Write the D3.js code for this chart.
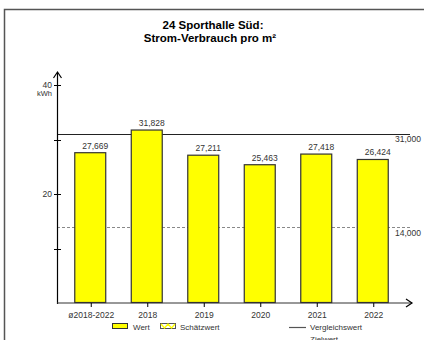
<!DOCTYPE html>
<html><head><meta charset="utf-8">
<script src="https://cdn.jsdelivr.net/npm/d3@7"></script>
<style>body{margin:0;background:#fff}svg{display:block;font-family:"Liberation Sans",Arial,sans-serif}</style>
</head><body>
<script>
const categories = ["ø2018-2022","2018","2019","2020","2021","2022"];
const values = [27.669,31.828,27.211,25.463,27.418,26.424];
const valueLabels = ["27,669","31,828","27,211","25,463","27,418","26,424"];
const refValues = [31.0, 14.0];
const refLabels = ["31,000","14,000"];
const yTicks = [10,20,30,40];
const yTickLabels = {20:"20",40:"40"};
const titleLines = ["24 Sporthalle Süd:","Strom-Verbrauch pro m²"];

const W=425,H=340;
const svg=d3.select("body").append("svg").attr("width",W).attr("height",H);
// frame
svg.append("path").attr("d","M4.5,340 V9.5 H424").attr("fill","none").attr("stroke","#555").attr("stroke-width",1.5);

// title
svg.append("text").attr("x",213).attr("y",29).attr("text-anchor","middle")
  .attr("font-size",11.5).attr("font-weight","bold").attr("fill","#000").text(titleLines[0]);
svg.append("text").attr("x",210).attr("y",42).attr("text-anchor","middle")
  .attr("font-size",11.5).attr("font-weight","bold").attr("fill","#000").text(titleLines[1]);

const x=d3.scaleBand().domain(categories).range([62,401]).paddingInner(0.434).paddingOuter(0.217);
const y=d3.scaleLinear().domain([0,40]).range([303,85]);
const x0=57, xEnd=411;

// reference lines
svg.append("line").attr("x1",x0).attr("x2",410).attr("y1",Math.round(y(refValues[0]))+0.5).attr("y2",Math.round(y(refValues[0]))+0.5)
  .attr("stroke","#222").attr("stroke-width",1.2);
svg.append("line").attr("x1",x0).attr("x2",410).attr("y1",Math.round(y(refValues[1]))+0.5).attr("y2",Math.round(y(refValues[1]))+0.5)
  .attr("stroke","#888").attr("stroke-width",1).attr("stroke-dasharray","3,2");
svg.append("text").attr("x",421).attr("y",y(refValues[0])+7.5).attr("text-anchor","end").attr("font-size",8.5).attr("fill","#333").text(refLabels[0]);
svg.append("text").attr("x",421).attr("y",y(refValues[1])+9).attr("text-anchor","end").attr("font-size",8.5).attr("fill","#333").text(refLabels[1]);

// bars
svg.selectAll("rect.bar").data(values).enter().append("rect").attr("class","bar")
  .attr("x",(d,i)=>x(categories[i])+0.5).attr("y",d=>y(d)+0.5)
  .attr("width",x.bandwidth()-1).attr("height",d=>y(0)-y(d)-1)
  .attr("fill","#ffff00").attr("stroke","#333").attr("stroke-width",1.2);
svg.selectAll("text.val").data(values).enter().append("text").attr("class","val")
  .attr("x",(d,i)=>x(categories[i])+x.bandwidth()/2+5).attr("y",d=>y(d)-3.5)
  .attr("text-anchor","middle").attr("font-size",8.5).attr("fill","#333").text((d,i)=>valueLabels[i]);

// y axis
svg.append("line").attr("x1",x0+0.5).attr("x2",x0+0.5).attr("y1",304).attr("y2",73).attr("stroke","#000").attr("stroke-width",1.2);
svg.append("path").attr("d",`M${x0-3.5},78 L${x0+0.5},72 L${x0+4.5},78`).attr("fill","none").attr("stroke","#000").attr("stroke-width",1.2);
svg.selectAll("line.yt").data(yTicks).enter().append("line").attr("class","yt")
  .attr("x1",x0-3).attr("x2",x0+4).attr("y1",d=>Math.round(y(d))+0.5).attr("y2",d=>Math.round(y(d))+0.5).attr("stroke","#000");
svg.selectAll("text.yl").data(yTicks.filter(d=>yTickLabels[d])).enter().append("text").attr("class","yl")
  .attr("x",x0-5).attr("y",d=>y(d)+3).attr("text-anchor","end").attr("font-size",8.5).attr("fill","#333").text(d=>yTickLabels[d]);
svg.append("text").attr("x",x0-5).attr("y",y(40)+11).attr("text-anchor","end").attr("font-size",7.5).attr("fill","#333").text("kWh");

// x axis
svg.append("line").attr("x1",x0).attr("x2",xEnd+1).attr("y1",303).attr("y2",303).attr("stroke","#333").attr("stroke-width",1.2);
svg.append("path").attr("d",`M${xEnd-5},299 L${xEnd+1},303 L${xEnd-5},307`).attr("fill","none").attr("stroke","#000").attr("stroke-width",1.2);
svg.selectAll("line.xt").data(categories).enter().append("line").attr("class","xt")
  .attr("x1",d=>x(d)+x.bandwidth()/2+1).attr("x2",d=>x(d)+x.bandwidth()/2+1).attr("y1",303).attr("y2",307).attr("stroke","#000");
svg.selectAll("text.xl").data(categories).enter().append("text").attr("class","xl")
  .attr("x",d=>x(d)+x.bandwidth()/2+1).attr("y",318).attr("text-anchor","middle").attr("font-size",8.5).attr("fill","#333").text(d=>d);

// legend
const lg=svg.append("g");
lg.append("rect").attr("x",112.5).attr("y",323.5).attr("width",15).attr("height",5).attr("fill","#ffff00").attr("stroke","#333");
lg.append("text").attr("x",133).attr("y",330).attr("font-size",8).attr("fill","#333").text("Wert");
lg.append("rect").attr("x",160.5).attr("y",323.5).attr("width",15).attr("height",5).attr("fill","#fff").attr("stroke","#555");
lg.append("path").attr("d","M161,324 L164.5,328 L168,324 L171.5,328 L175,324").attr("fill","none").attr("stroke","#ffff00").attr("stroke-width",1.3);
lg.append("text").attr("x",180).attr("y",330).attr("font-size",8).attr("fill","#333").text("Schätzwert");
lg.append("line").attr("x1",289).attr("x2",306).attr("y1",327.5).attr("y2",327.5).attr("stroke","#555").attr("stroke-width",1.2);
lg.append("text").attr("x",310).attr("y",330).attr("font-size",8).attr("fill","#333").text("Vergleichswert");
lg.append("text").attr("x",310).attr("y",342).attr("font-size",8).attr("fill","#333").text("Zielwert");
</script>
</body></html>
